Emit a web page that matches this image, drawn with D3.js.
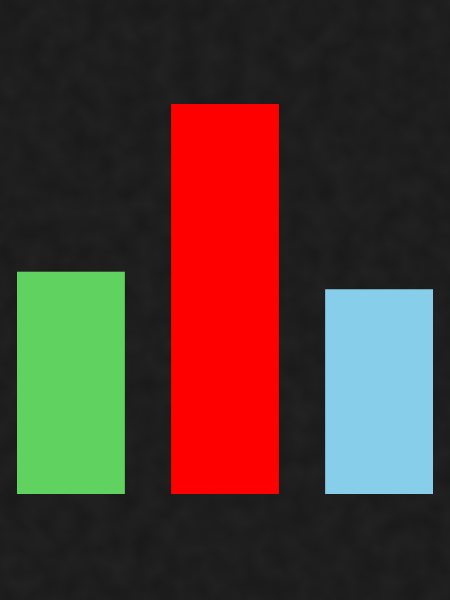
<!DOCTYPE html>
<html>
<head>
<meta charset="utf-8">
<script src="https://cdn.jsdelivr.net/npm/d3@7"></script>
<style>
  html, body { margin: 0; padding: 0; background: #1b1b1b; }
  svg { display: block; }
</style>
</head>
<body>
<div id="chart"></div>
<script>
var width = 450, height = 600;

// values (tallest bar = 100)
var categories = ['A', 'B', 'C'];
var values = [57, 100, 52.5];
var colors = ['#60d260', '#ff0000', '#87ceeb'];

var svg = d3.select('#chart')
  .append('svg')
  .attr('width', width)
  .attr('height', height);

// grainy dark backdrop
var defs = svg.append('defs');
var grain = defs.append('filter')
  .attr('id', 'grain')
  .attr('x', 0).attr('y', 0)
  .attr('width', '100%').attr('height', '100%');
grain.append('feTurbulence')
  .attr('type', 'fractalNoise')
  .attr('baseFrequency', 0.045)
  .attr('numOctaves', 2)
  .attr('seed', 4)
  .attr('result', 'noise');
grain.append('feColorMatrix')
  .attr('in', 'noise')
  .attr('type', 'matrix')
  .attr('values', '0 0 0 0 1  0 0 0 0 1  0 0 0 0 1  0 0 0 0.05 0');

svg.append('rect')
  .attr('width', width)
  .attr('height', height)
  .attr('fill', '#181818');
svg.append('rect')
  .attr('width', width)
  .attr('height', height)
  .attr('filter', 'url(#grain)');

var x = d3.scaleBand()
  .domain(categories)
  .range([17, 433])
  .paddingInner(0.3)
  .paddingOuter(0);

var y = d3.scaleLinear()
  .domain([0, 100])
  .range([494, 104]);

svg.append('g')
  .selectAll('rect')
  .data(values)
  .enter()
  .append('rect')
  .attr('x', (d, i) => x(categories[i]))
  .attr('y', d => y(d))
  .attr('width', x.bandwidth())
  .attr('height', d => y(0) - y(d))
  .attr('fill', (d, i) => colors[i]);
</script>
</body>
</html>
